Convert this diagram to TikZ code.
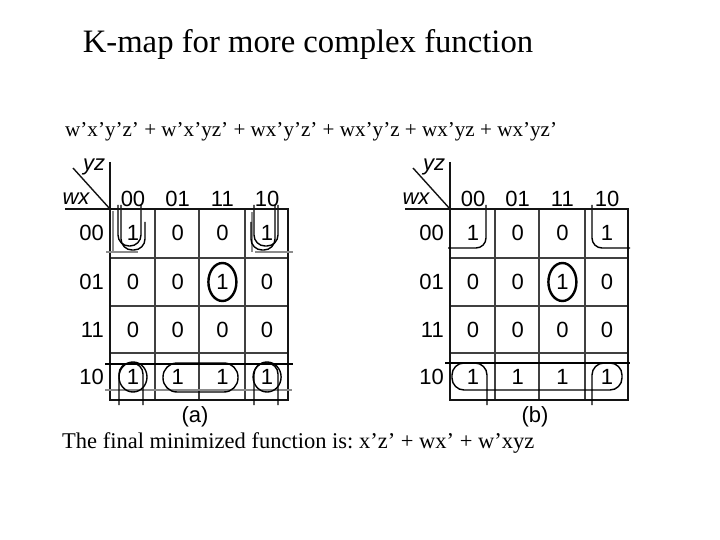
\documentclass[tikz,border=0pt]{standalone}
\usepackage{fontspec}
\setmainfont{Liberation Serif}
\newfontfamily\kfont{Liberation Sans}
\frenchspacing
\tikzset{
  kgrid/.style={line width=1.6pt, draw=black!75},
  kborder/.style={line width=2.2pt, draw=black!92},
  kdiag/.style={line width=1.4pt, draw=black!92},
  kcell/.style={font=\kfont\fontsize{22}{26}\selectfont, inner sep=0pt},
  kvar/.style={font=\kfont\itshape\fontsize{22}{26}\selectfont, inner sep=0pt},
  kloop/.style={line width=1.4pt, draw=black},
  kbold/.style={line width=2.4pt, draw=black},
  kghost/.style={line width=2pt, draw=black!45},
}
\newcommand\kmapbase[1]{%
  \draw[kgrid] (155,209) -- (155,400) (199,209) -- (199,400) (245,209) -- (245,400);
  \draw[kgrid] (110,258) -- (288,258) (110,306) -- (288,306) (110,353) -- (288,353);
  \draw[kborder] (110,209) rectangle (288,400);
  \node[kvar] (yz) at (94,167) {yz};
  \node[kvar] (wx) at (76,199) {wx};
  \foreach \cl [count=\ci] in {00,01,11,10}
    \node[kcell] (col\ci) at ({133+(\ci-1)*44.7},199) {\cl};
  \foreach \ry/\rl/\vals [count=\ri] in {233/00/{1,0,0,1},282/01/{0,0,1,0},330/11/{0,0,0,0},377/10/{1,1,1,1}}{
    \node[kcell, anchor=east] (row\ri) at (104,\ry) {\rl};
    \foreach \v [count=\ci] in \vals
      \node[kcell] (c\ri\ci) at ({133+(\ci-1)*44.7},\ry) {\v};
  }
  \node[kcell] (cap) at (195,417) {(#1)};
}
\begin{document}
\begin{tikzpicture}[x=1pt,y=-1pt]
\useasboundingbox (0,0) rectangle (720,540);
\fill[white] (0,0) rectangle (720,540);
\node[font=\fontsize{32.7}{38}\selectfont, anchor=base, inner sep=0pt] (title) at (308,53) {K-map for more complex function};
\node[font=\fontsize{21.1}{25}\selectfont, anchor=base west, inner sep=0pt] (expr) at (65,137) {w’x’y’z’ + w’x’yz’ + wx’y’z’ + wx’y’z + wx’yz + wx’yz’};
\node[font=\fontsize{22.5}{27}\selectfont, anchor=base west, inner sep=0pt] (final) at (62,448) {The final minimized function is: x’z’ + wx’ + w’xyz};
% map (a)
\begin{scope}[name prefix=a-]
  \kmapbase{a}
  \draw[kghost] (106,252) -- (138,252) (113,211) -- (113,252);
  \draw[kghost] (255,252) -- (293,252) (252,212) -- (252,252);
  \draw[kghost] (105,390) -- (292,390);
  \draw[kloop] (105,364) -- (293,364);
  \draw[kloop, rounded corners=11pt] (118,205) -- (118,246) -- (141,246) -- (141,205);
  \draw[kloop, rounded corners=11pt] (121,205) -- (121,250) -- (145,250) -- (145,222);
  \draw[kloop, rounded corners=11pt] (254,205) -- (254,246) -- (278,246) -- (278,205);
  \draw[kloop, rounded corners=11pt] (251,222) -- (251,250) -- (275,250) -- (275,205);
  \draw[kbold] (a-c23) ellipse (14 and 19);
  \draw[kloop] (a-c41) ellipse (14 and 15);
  \draw[kloop, rounded corners=11pt] (119,405) -- (119,363) -- (143,363) -- (143,405);
  \draw[kloop, rounded corners=14pt] (163,363) rectangle (238,392);
  \draw[kloop] (a-c44) ellipse (14 and 15);
  \draw[kloop, rounded corners=11pt] (254,405) -- (254,363) -- (278,363) -- (278,405);
\end{scope}
% map (b)
\begin{scope}[xshift=340pt, name prefix=b-]
  \kmapbase{b}
  \draw[kloop, rounded corners=10pt] (146,205) -- (146,248) -- (108,248);
  \draw[kloop, rounded corners=10pt] (252,205) -- (252,248) -- (290,248);
  \draw[kbold] (b-c23) ellipse (14 and 19);
  \draw[kloop] (105,363) -- (290,363);
  \draw[kloop, rounded corners=12pt] (147,405) -- (147,363) -- (112,363) -- (112,390) -- (282,390) -- (282,363) -- (252,363) -- (252,405);
\end{scope}
% header lines of both maps
\coordinate (ahl) at (65,209);  \coordinate (ahr) at (288,209);
\coordinate (avt) at (110,162); \coordinate (avb) at (110,209);
\coordinate (ads) at (73,168);
\coordinate (bhl) at (405,209); \coordinate (bhr) at (628,209);
\coordinate (bvt) at (450,162); \coordinate (bvb) at (450,209);
\coordinate (bds) at (413,168);
\draw[kborder] (ahl) -- (ahr);
\draw[kborder] (avt) -- (avb);
\draw[kdiag] (ads) -- (avb);
\draw[kborder] (bhl) -- (bhr);
\draw[kborder] (bvt) -- (bvb);
\draw[kdiag] (bds) -- (bvb);
\end{tikzpicture}
\end{document}
